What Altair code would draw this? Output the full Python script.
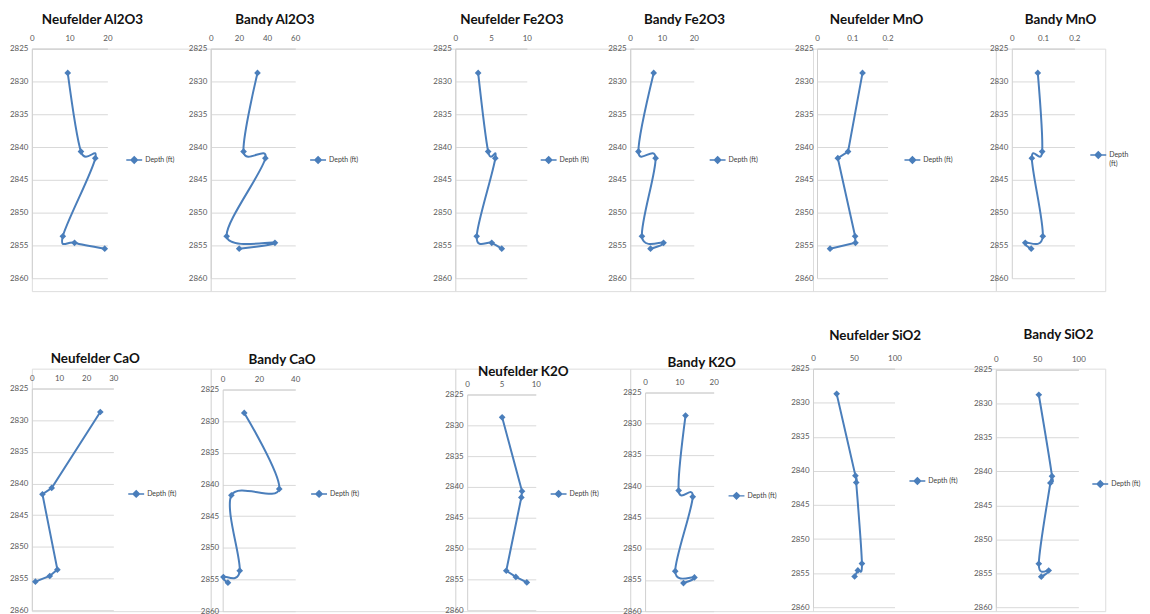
import altair as alt
import pandas as pd

# ---------------- data ----------------
depth = [2828.7, 2840.7, 2841.7, 2853.6, 2854.6, 2855.5]

titles = [
    ["Neufelder Al2O3", "Bandy Al2O3", "Neufelder Fe2O3", "Bandy Fe2O3", "Neufelder MnO", "Bandy MnO"],
    ["Neufelder CaO", "Bandy CaO", "Neufelder K2O", "Bandy K2O", "Neufelder SiO2", "Bandy SiO2"],
]

neufelder_al2o3 = [9.5, 13.0, 16.8, 8.2, 11.3, 19.3]
bandy_al2o3 = [33.2, 23.3, 38.8, 11.3, 45.6, 20.2]
neufelder_fe2o3 = [3.2, 4.6, 5.6, 3.0, 5.1, 6.5]
bandy_fe2o3 = [7.4, 2.6, 8.0, 3.7, 10.5, 6.4]
neufelder_mno = [0.129, 0.088, 0.059, 0.108, 0.109, 0.037]
bandy_mno = [0.083, 0.097, 0.064, 0.099, 0.043, 0.062]
neufelder_cao = [25.2, 7.3, 3.9, 9.4, 6.6, 1.3]
bandy_cao = [11.9, 31.2, 4.8, 9.4, 0.4, 2.9]
neufelder_k2o = [5.1, 8.0, 7.9, 5.7, 7.1, 8.7]
bandy_k2o = [11.8, 9.8, 13.9, 8.8, 14.4, 11.2]
neufelder_sio2 = [29, 52, 53, 60, 55, 51]
bandy_sio2 = [52, 68, 66, 52, 64, 55]

values = [
    [neufelder_al2o3, bandy_al2o3, neufelder_fe2o3, bandy_fe2o3, neufelder_mno, bandy_mno],
    [neufelder_cao, bandy_cao, neufelder_k2o, bandy_k2o, neufelder_sio2, bandy_sio2],
]
x_ticks = [
    [[0, 10, 20], [0, 20, 40, 60], [0, 5, 10], [0, 10, 20], [0, 0.1, 0.2], [0, 0.1, 0.2]],
    [[0, 10, 20, 30], [0, 20, 40], [0, 5, 10], [0, 10, 20], [0, 50, 100], [0, 50, 100]],
]
depth_ticks = [2825, 2830, 2835, 2840, 2845, 2850, 2855, 2860]
legend_label = "Depth (ft)"

# ---------------- layout / style ----------------
BLUE = "#4A7EBB"
GRID = "#D9D9D9"
DOMAIN = "#D0D0D0"
LABEL = "#595959"
FONT = "Lato"

plot_left = [[31, 211, 457, 633, 821, 1017], [31, 223, 469, 648, 817, 1001]]
col_left = [min(a, b) for a, b in zip(plot_left[0], plot_left[1])]
col_w = [col_left[i + 1] - col_left[i] for i in range(5)] + [110]
plot_w = [[76, 85, 72, 64, 71, 63], [82, 73, 69, 69, 82, 83]]
CELL_H = 244
ROW2_TOP = 366
ROW1_TOP = 48
y_range = [
    [[0, 231]] * 6,
    [[20, 243], [21, 244], [26, 243], [24, 244], [0, 240], [1, 240]],
]
title_center = [[92, 275.5, 514, 687.7, 881, 1066], [94.7, 282.7, 525.5, 705, 879.5, 1064]]
title_dy = [[-2] * 6, [2.7, 4, 16, 6.7, -6, -8]]
legend_pos = [
    [[94, 103], [99, 103], [85, 103], [79, 103], [87, 103], [78, 98]],
    [[96, 117], [88, 117], [83, 117], [83, 119], [96, 104], [96, 107]],
]
smooth = [[True, True, True, True, False, True], [False, True, False, True, True, True]]
SYMBOL = "M-1,0L1,0M0,-0.4L0.4,0L0,0.4L-0.4,0Z"


def panel(r, c):
    vals = values[r][c]
    df = pd.DataFrame({"value": vals, "depth": depth, "series": legend_label, "ord": list(range(len(vals)))})
    xo = plot_left[r][c] - col_left[c]
    cell_w = col_w[c]
    pw = plot_w[r][c]
    r0, r1 = y_range[r][c]
    ticks = x_ticks[r][c]

    x = alt.X(
        "value:Q",
        scale=alt.Scale(domain=[0, ticks[-1]], range=[xo, xo + pw], nice=False, zero=True),
        axis=alt.Axis(
            orient="top", values=ticks, format=".4~g", grid=False, ticks=False, tickSize=0,
            domain=True, labelPadding=6, labelFontSize=8, labelColor=LABEL, labelFont=FONT,
            labelFlush=False, labelOverlap=False, domainColor=DOMAIN, offset=-r0, title=None,
        ),
    )
    y = alt.Y(
        "depth:Q",
        scale=alt.Scale(domain=[2825, 2860], range=[r0, r1], nice=False, zero=False),
        axis=alt.Axis(
            values=depth_ticks, format="d", grid=True, gridColor=GRID, gridWidth=1, ticks=False,
            domain=True, tickSize=0, labelPadding=4, labelFontSize=8, labelColor=LABEL, labelFont=FONT,
            labelFlush=False, labelOverlap=False, domainColor=DOMAIN, offset=-xo, title=None,
        ),
    )
    lx, ly = legend_pos[r][c]
    legend_kwargs = dict(
        orient="none", legendX=xo + lx, legendY=ly, title=None, symbolType=SYMBOL, symbolSize=256,
        symbolStrokeColor=BLUE, symbolStrokeWidth=1.5, symbolFillColor=BLUE,
        labelFontSize=7, labelColor="#404040", labelFont=FONT, labelOffset=2, padding=0,
    )
    if r == 0 and c == 5:
        legend_kwargs["labelExpr"] = "['Depth', '(ft)']"
    legend = alt.Legend(**legend_kwargs)

    line = alt.Chart(df).mark_line(
        interpolate="cardinal" if smooth[r][c] else "linear", strokeWidth=2, color=BLUE
    ).encode(x=x, y=y, order="ord:Q")
    pts = alt.Chart(df).mark_point(shape="diamond", filled=True, size=45, opacity=1).encode(
        x=x, y=y,
        color=alt.Color("series:N", scale=alt.Scale(range=[BLUE]), legend=legend),
    )
    dx = title_center[r][c] - (col_left[c] + cell_w / 2)
    return alt.layer(line, pts).properties(
        width=cell_w,
        height=CELL_H,
        title=alt.TitleParams(
            titles[r][c], anchor="middle", frame="group", dx=dx, dy=title_dy[r][c],
            fontSize=13.5, font=FONT, fontWeight="bold", color="#111111", offset=6,
        ),
    )


panels = [panel(r, c) for r in range(2) for c in range(6)]
chart = (
    alt.concat(*panels, columns=6, spacing={"row": ROW2_TOP - ROW1_TOP - CELL_H + 4, "column": 0},
               bounds="flush", align="each")
    .resolve_scale(x="independent", y="independent", color="independent")
    .resolve_legend(color="independent")
    .resolve_axis(x="independent", y="independent")
    .properties(padding={"left": 0, "top": 3, "right": 0, "bottom": 0})
    .configure_view(stroke=None, strokeWidth=0)
    .configure_axis(grid=False, domain=False, gridColor=GRID)
    .configure(font=FONT)
)
chart.save("out.html", embed_options={"renderer": "svg", "actions": False})
